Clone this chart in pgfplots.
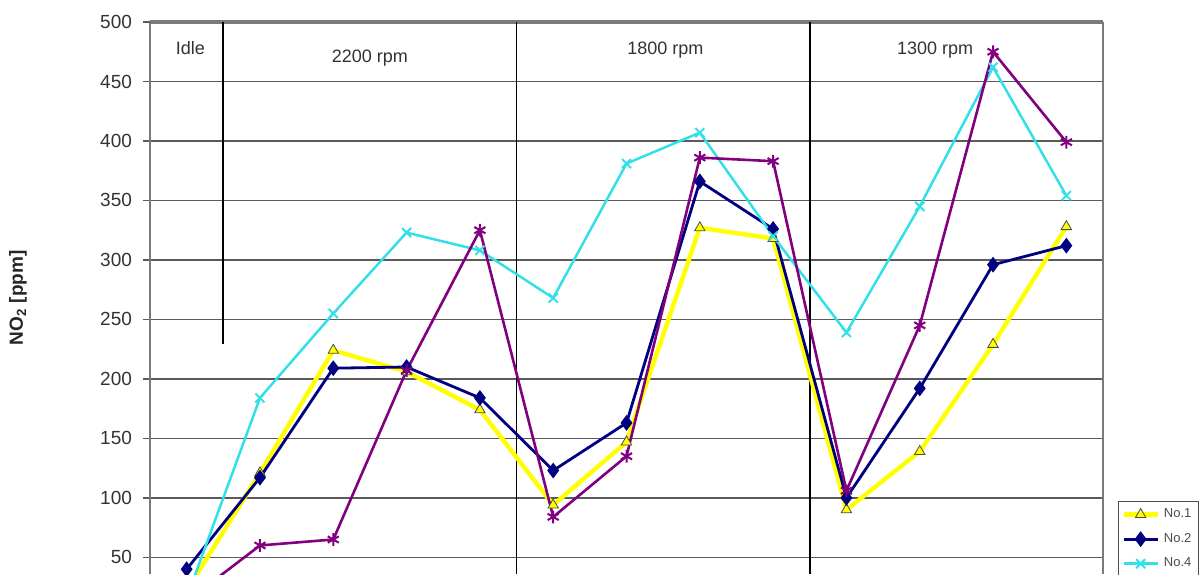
\documentclass[border=0pt]{standalone}
\usepackage{fontspec}
\setmainfont{Liberation Sans}
\usepackage{pgfplots}
\pgfplotsset{compat=1.18}
\usepackage{pgfplotstable}

\definecolor{cNone}{HTML}{FFFF00}
\definecolor{cNtwo}{HTML}{000080}
\definecolor{cNfour}{HTML}{33E0E8}
\definecolor{cNthree}{HTML}{800080}
\definecolor{gridgray}{HTML}{5A5A5A}
\definecolor{axgray}{HTML}{7A7A7A}

\pgfplotstableread{
x n1 n2 n4 n3
1 22 40 16 13
2 121 117 184 60
3 224 209 255 65
4 206 210 323 207
5 174 184 308 325
6 94 123 268 84
7 147 163 381 135
8 327 366 407 386
9 318 326 320 383
10 90 100 239 106
11 139 192 345 245
12 229 296 462 475
13 328 312 354 399
}\datatable

\begin{document}
\begin{tikzpicture}
\begin{axis}[
  at={(75pt,0pt)}, anchor=south west,
  scale only axis, width=476.5pt, height=276pt,
  xmin=0.5, xmax=13.5, ymin=36, ymax=500,
  hide x axis,
  ytick={50,100,...,450},
  extra y ticks={500},
  extra y tick style={grid style={axgray, line width=1.8pt}},
  ymajorgrids,
  grid style={gridgray, line width=0.75pt},
  ytick pos=left, tick align=outside, major tick length=3.5pt,
  tick style={gridgray, line width=0.75pt},
  axis line style={axgray, line width=1.4pt},
  yticklabel style={font=\fontsize{9.5}{11}\selectfont, text=black!80, xshift=-2pt},
  /pgf/number format/assume math mode=true,
  ylabel={\bfseries NO\textsubscript{2} [ppm]},
  ylabel style={at={(axis description cs:-0.1385,0.5)}, anchor=center, font=\fontsize{9.5}{11}\selectfont, text=black!85},
  legend style={at={(rel axis cs:1.0157,0.132)}, anchor=north west,
    font=\fontsize{6.5}{7}\selectfont, draw=black!70, line width=0.4pt,
    row sep=2.3pt, inner sep=1.5pt, text=black!70},
  legend cell align=left,
]
\draw[black, line width=0.9pt] (axis cs:1.5,229) -- (axis cs:1.5,500);
\draw[black, line width=0.9pt] (axis cs:5.5,36) -- (axis cs:5.5,500);
\draw[black, line width=0.9pt] (axis cs:9.5,36) -- (axis cs:9.5,500);

\addplot[color=cNone, line width=2.2pt, mark=triangle*, mark size=3pt,
  mark options={fill=cNone, draw=black!70, line width=0.4pt}] table[x=x,y=n1] {\datatable};
\addlegendentry{No.1}
\addplot[color=cNtwo, line width=1.4pt, mark=diamond*, mark size=2.8pt,
  mark options={fill=cNtwo, draw=cNtwo}] table[x=x,y=n2] {\datatable};
\addlegendentry{No.2}
\addplot[color=cNfour, line width=1.25pt, mark=x, mark size=3.2pt,
  mark options={draw=cNfour, line width=1pt}] table[x=x,y=n4] {\datatable};
\addlegendentry{No.4}
\addplot[forget plot, color=cNthree, line width=1.3pt, mark=asterisk, mark size=3.2pt,
  mark options={draw=cNthree, line width=1pt}] table[x=x,y=n3] {\datatable};

\node[font=\fontsize{9}{11}\selectfont, text=black!80] at (axis cs:1.05,478) {Idle};
\node[font=\fontsize{9}{11}\selectfont, text=black!80] at (axis cs:3.5,470) {2200 rpm};
\node[font=\fontsize{9}{11}\selectfont, text=black!80] at (axis cs:7.53,476.5) {1800 rpm};
\node[font=\fontsize{9}{11}\selectfont, text=black!80] at (axis cs:11.21,476.5) {1300 rpm};
\end{axis}
\pgfresetboundingbox
\path[use as bounding box] (0,0) rectangle (601pt,287pt);
\end{tikzpicture}
\end{document}
